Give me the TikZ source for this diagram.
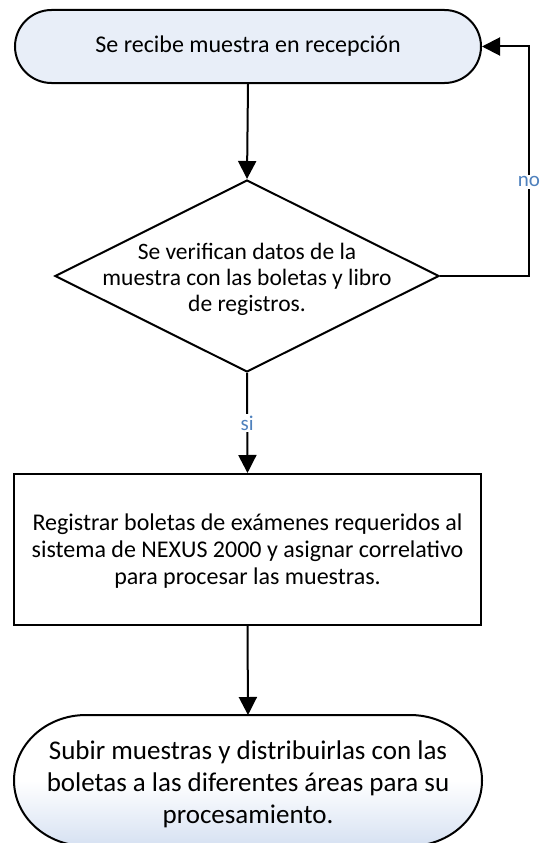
\documentclass[tikz,border=0pt]{standalone}
\usepackage{fontspec}
\setmainfont{Carlito}
\usetikzlibrary{shapes.geometric,arrows.meta}
\definecolor{termfill}{HTML}{E8EEF8}
\definecolor{gradbot}{HTML}{D6E1F2}
\definecolor{lblblue}{HTML}{4F81BD}
\tikzset{
  line/.style={line width=2pt},
  arr/.style={line, -{Triangle[length=18pt,width=18pt]}},
  txt/.style={align=center, font=\fontsize{24}{27}\selectfont, inner sep=0pt},
  lbl/.style={fill=white, text=lblblue, font=\fontsize{21}{24}\selectfont, inner sep=1.5pt},
}
\begin{document}
\begin{tikzpicture}[x=1pt,y=-1pt]
\useasboundingbox (0,0) rectangle (542,843);
\clip (0,0) rectangle (542,843);
% start terminal
\node[line, draw, fill=termfill, rounded corners=36.5pt, minimum width=466pt, minimum height=73pt, inner sep=0pt] (start) at (248,46.5) {};
\node[txt] (starttxt) at (248,46.5) {Se recibe muestra en recepción};
% decision
\node[line, draw, fill=white, diamond, minimum width=384pt, minimum height=192pt, inner sep=0pt] (dec) at (247,276) {};
\node[txt, font=\fontsize{23.5}{26}\selectfont] (dectxt) at (247,279) {Se verifican datos de la\\muestra con las boletas y libro\\de registros.};
% process
\node[line, draw, fill=white, minimum width=467pt, minimum height=151pt, inner sep=0pt] (proc) at (247.5,549.5) {};
\node[txt, font=\fontsize{24}{27}\selectfont] (proctxt) at (247.5,551) {Registrar boletas de exámenes requeridos al\\sistema de NEXUS 2000 y asignar correlativo\\para procesar las muestras.};
% end terminal (elliptical ends, cut by the page bottom)
\shade[top color=white, bottom color=gradbot, middle color=white]
  (86,715) -- (410,715) arc[start angle=-90, end angle=90, x radius=72, y radius=65.5]
  -- (86,846) arc[start angle=90, end angle=270, x radius=72, y radius=65.5] -- cycle;
\draw[line]
  (86,715) -- (410,715) arc[start angle=-90, end angle=90, x radius=72, y radius=65.5]
  -- (86,846) arc[start angle=90, end angle=270, x radius=72, y radius=65.5] -- cycle;
\coordinate (endtop) at (248,715);
\node[txt, font=\fontsize{27}{32}\selectfont] (endtxt) at (248,784) {Subir muestras y distribuirlas con las\\boletas a las diferentes áreas para su\\procesamiento.};
% connectors
\coordinate (c1) at (529,276);
\coordinate (c2) at (529,46.5);
\draw[arr] (start.south) -- (dec.north);
\draw[arr] (dec.south) -- node[lbl]{si} (proc.north);
\draw[arr] (proc.south) -- (endtop);
\draw[arr] (dec.east) -- (c1) -- node[lbl, pos=0.41]{no} (c2) -- (start.east);
\end{tikzpicture}
\end{document}
